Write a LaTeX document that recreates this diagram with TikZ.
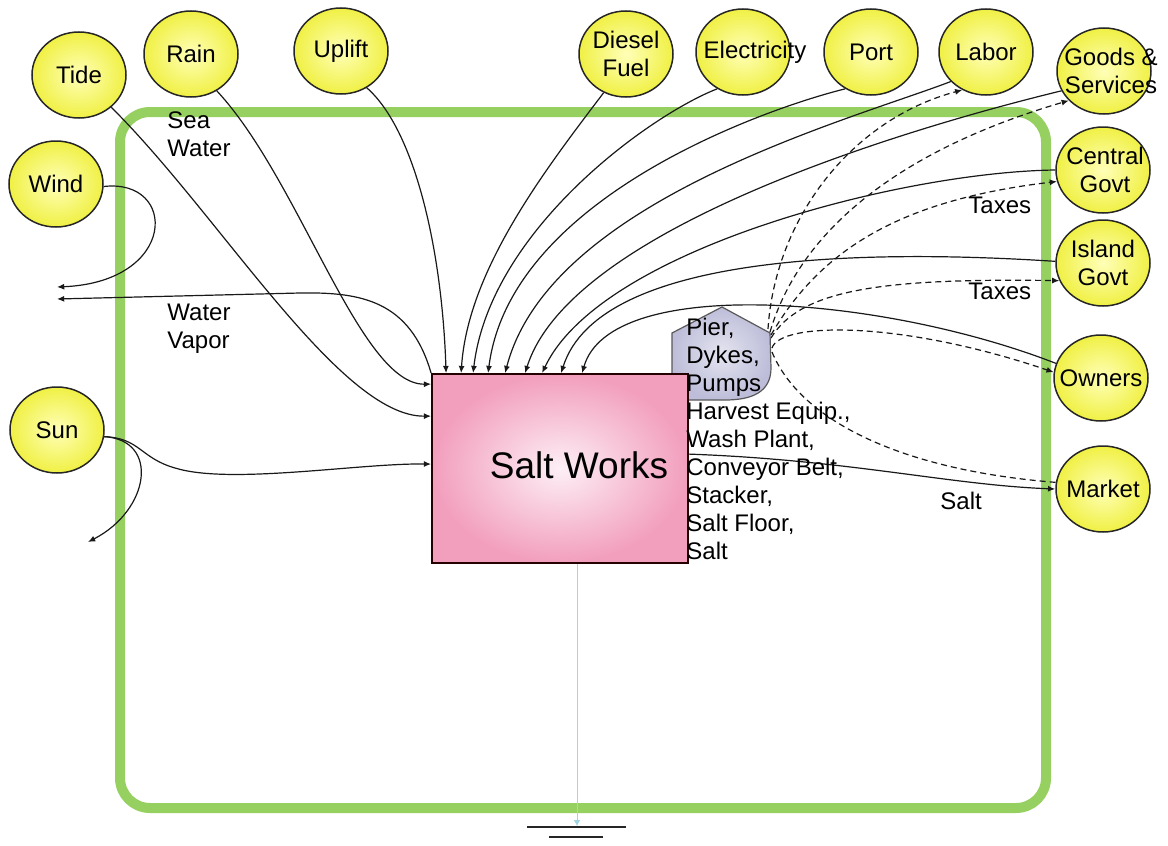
\documentclass[tikz,border=0pt]{standalone}
\usepackage{fontspec}
\setmainfont{Liberation Sans}
\usetikzlibrary{shapes.geometric,arrows.meta,calc}

\definecolor{rim}{HTML}{96D060}
\definecolor{srcout}{HTML}{F0F045}
\definecolor{srcin}{HTML}{FFFFB8}
\definecolor{pinkout}{HTML}{F29EBD}
\definecolor{pinkin}{HTML}{FDEFF5}
\definecolor{tankout}{HTML}{BDBDD9}
\definecolor{tankin}{HTML}{E4E4F0}
\definecolor{sinkline}{HTML}{9ED6E6}

\begin{document}
\begin{tikzpicture}[x=0.5pt,y=-0.5pt,
  src/.style={ellipse, draw=black!85, line width=0.75pt, inner sep=0pt,
    minimum width=47pt, minimum height=43pt, inner color=srcin, outer color=srcout},
  lbl/.style={font=\fontsize{12}{14}\selectfont, align=center, inner sep=0pt, text=black},
  txt/.style={font=\fontsize{12}{14}\selectfont, align=left, inner sep=0pt,
    anchor=north west, text=black},
  works/.style={rectangle, draw=black!85!red, line width=0.9pt, inner sep=0pt,
    minimum width=128pt, minimum height=94.5pt, inner color=pinkin, outer color=pinkout},
  plain/.style={draw=black!90, line width=0.6pt},
  flow/.style={plain, -{Latex[length=3.6pt,width=3pt]}},
  money/.style={flow, dash pattern=on 3pt off 2pt},
  moneyplain/.style={plain, dash pattern=on 3pt off 2pt}]

% canvas
\fill[white] (0,0) rectangle (1168,846);

% system boundary
\draw[rim, line width=5pt, rounded corners=15pt] (120,112) rectangle (1046,808);

% storage tank (assets)
\shade[inner color=tankin, outer color=tankout, draw=black!65, line width=0.6pt]
  (672,400) -- (672,333) -- (722,307) -- (770,333) -- (771,368)
  .. controls (771,392) and (752,400) .. (725,400) -- cycle;

% main process
\node[works, label={[font=\fontsize{18.5}{22}\selectfont, xshift=9.5pt, yshift=1.75pt]center:Salt Works}]
  (sw) at (560,468.5) {};

% heat sink
\coordinate (sink) at (577,826);
\draw[sinkline, line width=0.5pt, -{Latex[length=3pt,width=3.5pt]}] (sw.south -| sink) -- (sink);
\draw[black!85, line width=1.2pt] ($(sink)+(-50,1)$) -- ($(sink)+(49,1)$);
\draw[black!85, line width=1.2pt] ($(sink)+(-28,11)$) -- ($(sink)+(26,11)$);

% sources
\node[src, label={[lbl]center:Tide}] (tide) at (79,75) {};
\node[src, label={[lbl]center:Rain}] (rain) at (191,54) {};
\node[src, label={[lbl]center:Uplift}] (uplift) at (341,51) {};
\node[src, label={[lbl]center:Diesel\\Fuel}] (diesel) at (626,54) {};
\node[src, label={[lbl,xshift=6pt]center:Electricity}] (elec) at (743,52) {};
\node[src, label={[lbl]center:Port}] (port) at (871,52) {};
\node[src, label={[lbl]center:Labor}] (labor) at (986,52) {};
\node[src, label={[lbl,xshift=3.5pt]center:Goods \&\\Services}] (goods) at (1104,71) {};
\node[src, label={[lbl,xshift=1pt]center:Central\\Govt}] (central) at (1103,170) {};
\node[src, label={[lbl]center:Island\\Govt}] (island) at (1103,263) {};
\node[src, label={[lbl]center:Owners}] (owners) at (1101,378) {};
\node[src, label={[lbl]center:Market}] (market) at (1103,489) {};
\node[src, label={[lbl]center:Wind}] (wind) at (56,184) {};
\node[src, label={[lbl]center:Sun}] (sun) at (57,430) {};

% free ends of outflows
\coordinate (windout) at (57,287);
\coordinate (vaporout) at (57,299);
\coordinate (sunout) at (88,542);

% outlet points on the tank
\coordinate (tk1) at (768,329);
\coordinate (tk2) at (770,332);
\coordinate (tk3) at (771,335);
\coordinate (tk4) at (771,338);
\coordinate (tk5) at (772,348);
\coordinate (tk6) at (772,352);

% inflows from the left
\draw[flow] (tide.-45) .. controls (220,215) and (340,417) .. ($(sw.north west)+(0,43)$);
\draw[flow] (rain.-55) .. controls (300,180) and (360,385) .. ($(sw.north west)+(0,11)$);
\draw[flow] (sun.-8) .. controls (140,438) and (140,458) .. (175,468)
  .. controls (230,485) and (360,463) .. ($(sw.north west)+(0,91)$);
\draw[flow] (sun.-8) .. controls (160,440) and (150,510) .. (sunout);
\draw[flow] (wind.-3) .. controls (178,178) and (178,282) .. (windout);
\draw[flow] (sw.north west) .. controls (410,300) and (360,292) .. (300,293) -- (vaporout);

% inflows onto the top of the works
\draw[flow] (uplift.-55) .. controls (415,130) and (442,250) .. ($(sw.north west)+(15,0)$);
\draw[flow] (diesel.-120) .. controls (545,170) and (468,270) .. ($(sw.north west)+(30,0)$);
\draw[flow] (elec.-125) .. controls (650,115) and (490,230) .. ($(sw.north west)+(42,0)$);
\draw[flow] (port.-125) .. controls (760,110) and (510,200) .. ($(sw.north west)+(57,0)$);
\draw[flow] (labor.-140) .. controls (850,120) and (550,200) .. ($(sw.north west)+(74,0)$);
\draw[flow] (goods.-155) .. controls (900,130) and (570,230) .. ($(sw.north west)+(94,0)$);
\draw[flow] (central.180) .. controls (900,172) and (600,250) .. ($(sw.north west)+(111,0)$);
\draw[flow] (island.178) .. controls (880,250) and (600,250) .. ($(sw.north west)+(130,0)$);
\draw[flow] (owners.162) .. controls (880,295) and (610,275) .. ($(sw.north west)+(151,0)$);

% product
\draw[flow] ($(sw.north east)+(0,81)$) .. controls (850,460) and (950,485) .. (market.180);

% payments
\draw[money] (tk1) .. controls (775,220) and (850,120) .. (labor.-122);
\draw[money] (tk2) .. controls (800,230) and (900,150) .. (goods.-140);
\draw[money] (tk3) .. controls (820,250) and (900,200) .. (central.-166);
\draw[money] (tk4) .. controls (800,290) and (880,278) .. (island.-158);
\draw[money] (tk5) .. controls (780,322) and (900,320) .. (owners.173);
\draw[moneyplain] (tk6) .. controls (800,420) and (900,470) .. (market.172);

% labels
\node[txt] (seawater) at (167,111) {Sea\\Water};
\node[txt] (vapor) at (167,304) {Water\\Vapor};
\node[txt] (tax1) at (968,197) {Taxes};
\node[txt] (tax2) at (968,283) {Taxes};
\node[txt] (saltlbl) at (940,492) {Salt};
\node[txt] (assets) at (686,318) {Pier,\\Dykes,\\Pumps\\Harvest Equip.,\\Wash Plant,\\Conveyor Belt,\\Stacker,\\Salt Floor,\\Salt};

\end{tikzpicture}
\end{document}
